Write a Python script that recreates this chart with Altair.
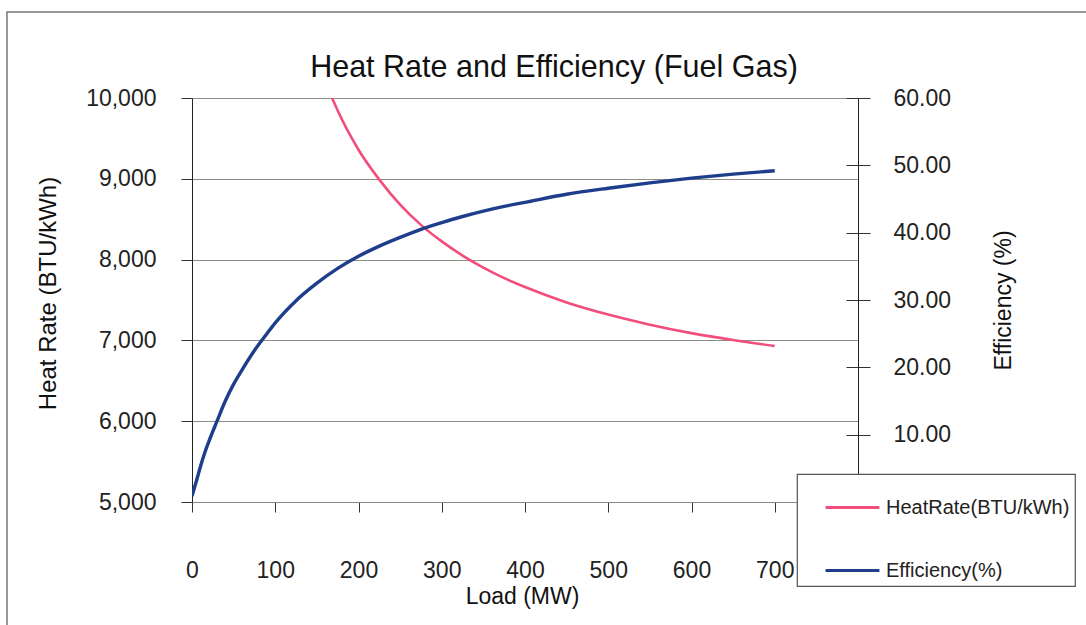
import altair as alt
import pandas as pd

# Load (MW)
load = [0, 5, 10, 15, 20, 30, 40, 50, 60, 75, 90, 100, 125, 150, 175, 200, 225,
        250, 275, 300, 325, 350, 375, 400, 450, 500, 550, 600, 650, 700]
# Heat rate (BTU/kWh); None where the curve is far above the visible range
heat_rate = [None, None, None, None, None, None, None, None, None, None, None, None,
             11400, 10490, 9845, 9360, 8990, 8680, 8430, 8225, 8050, 7900, 7770,
             7660, 7470, 7320, 7195, 7090, 7005, 6930]
# Efficiency (%)
efficiency = [0.9, 3.0, 5.2, 7.2, 8.9, 12.0, 15.0, 17.5, 19.6, 22.5, 25.0, 26.6,
              29.9, 32.5, 34.7, 36.5, 38.0, 39.3, 40.5, 41.5, 42.4, 43.2, 43.9,
              44.5, 45.7, 46.6, 47.4, 48.1, 48.7, 49.2]

series_names = ["HeatRate(BTU/kWh)", "Efficiency(%)"]
series_colors = ["#F24D7B", "#1E3E8C"]

x_ticks = [0, 100, 200, 300, 400, 500, 600, 700]
left_ticks = [5000, 6000, 7000, 8000, 9000, 10000]
right_ticks = [10, 20, 30, 40, 50, 60]

df_hr = pd.DataFrame({"load": load, "value": heat_rate, "series": series_names[0]}).dropna()
df_eff = pd.DataFrame({"load": load, "value": efficiency, "series": series_names[1]})

FONT = "Liberation Sans"

x_enc = alt.X(
    "load:Q",
    scale=alt.Scale(domain=[0, 800], nice=False, zero=False),
    axis=alt.Axis(
        values=x_ticks, title="Load (MW)", grid=False, format=".0f", labelFlush=False,
        tickSize=10, tickColor="#333", domainColor="#888", domainWidth=1,
        labelFontSize=23, labelPadding=47, labelColor="#222",
        titleFontSize=23, titleFontWeight="normal", titleColor="#111",
        titleX=330, titleY=94, titleBaseline="middle",
    ),
)

color_enc = alt.Color(
    "series:N",
    scale=alt.Scale(domain=series_names, range=series_colors),
    legend=alt.Legend(
        title=None, orient="none", legendX=605, legendY=376,
        direction="vertical",
        fillColor="white", strokeColor="#555",
        padding=5, rowPadding=24, symbolOffset=22,
        symbolType="stroke", symbolSize=2900, symbolStrokeWidth=3,
        labelFontSize=20, labelFont=FONT, labelColor="#222", labelOffset=5,
        labelLimit=400, labelExpr="datum.label + '\u00a0\u00a0\u00a0\u00a0\u00a0\u00a0'",
    ),
)

hr_line = alt.Chart(df_hr).mark_line(clip=True, strokeWidth=2.6, interpolate="monotone").encode(
    x=x_enc,
    y=alt.Y(
        "value:Q",
        scale=alt.Scale(domain=[5000, 10000], nice=False, zero=False),
        axis=alt.Axis(
            orient="left", values=left_ticks, format=",.0f", title="Heat Rate (BTU/kWh)",
            grid=True, gridColor="#8E8E82", gridWidth=1,
            tickSize=11, tickColor="#333", domainColor="#222", domainWidth=1,
            labelFontSize=23, labelPadding=25, labelColor="#222",
            titleFontSize=24, titleFontWeight="normal", titleColor="#111",
            titleX=-144, titleY=195, titleAngle=-90, titleBaseline="middle", titleAlign="center",
        ),
    ),
    color=color_enc,
)

eff_line = alt.Chart(df_eff).mark_line(clip=True, strokeWidth=3.4, interpolate="monotone").encode(
    x=x_enc,
    y=alt.Y(
        "value:Q",
        scale=alt.Scale(domain=[0, 60], nice=False, zero=False),
        axis=alt.Axis(
            orient="right", values=right_ticks, format=".2f", title="Efficiency (%)",
            grid=False, tickSize=12, tickColor="#333", domainColor="#222", domainWidth=1,
            labelFontSize=23, labelPadding=23, labelColor="#222",
            titleFontSize=23, titleFontWeight="normal", titleColor="#111",
            titleX=145, titleY=202, titleAngle=-90, titleBaseline="middle", titleAlign="center",
        ),
    ),
    color=color_enc,
)

# invisible layer only to draw the inner half of the right-axis cross ticks
inner_ticks = alt.Chart(df_eff).mark_line(opacity=0).encode(
    x=x_enc,
    y=alt.Y(
        "value:Q",
        scale=alt.Scale(domain=[0, 60], nice=False, zero=False),
        axis=alt.Axis(
            orient="right", offset=-12, values=right_ticks, labels=False, domain=False,
            grid=False, tickSize=12, tickColor="#333", title=None,
        ),
    ),
)

border = alt.Chart(pd.DataFrame({"z": [0]})).mark_rect(
    filled=False, stroke="#777", strokeWidth=1.5
).encode(
    x=alt.value(-185), x2=alt.value(920), y=alt.value(-86), y2=alt.value(560)
)

chart = alt.layer(border, hr_line, eff_line, inner_ticks).resolve_scale(
    y="independent"
).properties(
    width=666,
    height=404,
    autosize=alt.AutoSizeParams(type="none"),
    padding={"left": 192, "top": 98, "right": 228, "bottom": 123},
    background="white",
    title=alt.TitleParams(
        "Heat Rate and Efficiency (Fuel Gas)", fontSize=30.5, fontWeight="normal",
        font=FONT, color="#111", anchor="middle", frame="group", dx=29, dy=114,
        baseline="alphabetic", offset=18,
    ),
).configure(
    font=FONT
).configure_view(
    stroke=None
).configure_legend(
    strokeWidth=1.2
)

chart.save("out.html", embed_options={"renderer": "svg", "actions": False})
